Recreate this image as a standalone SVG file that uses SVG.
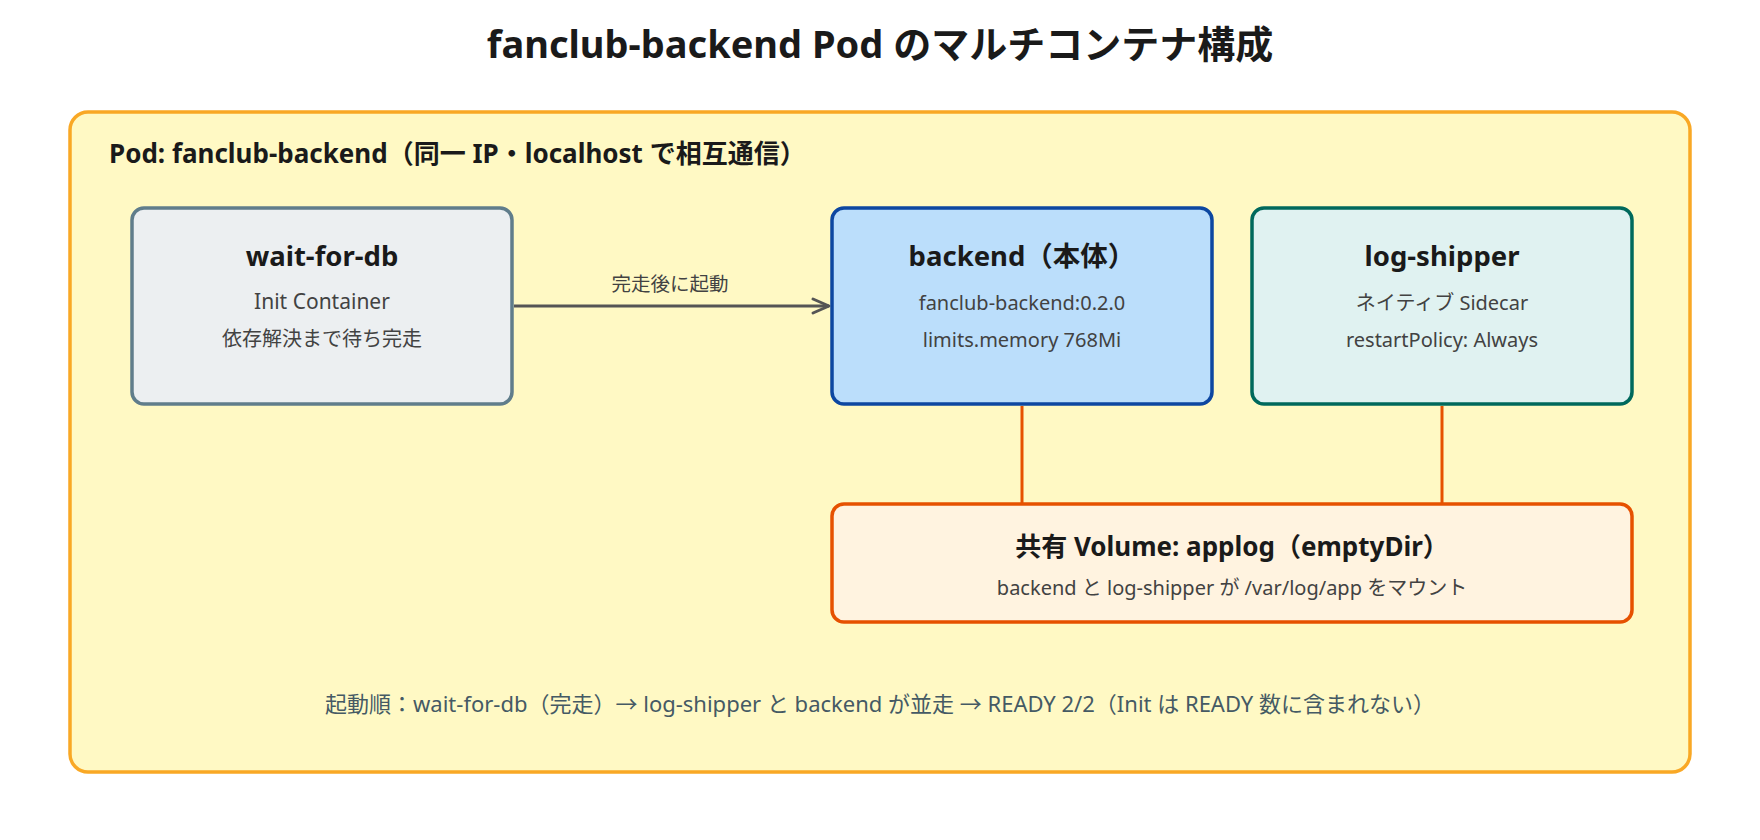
<svg xmlns="http://www.w3.org/2000/svg" width="1760" height="840" viewBox="0 0 1760 840">
  <style>
    text { font-family: "Noto Sans", "Noto Sans CJK JP", sans-serif; }
    .title { font-size: 38px; font-weight: 700; fill: #1a1a1a; text-anchor: middle; }
    .podlabel { font-size: 26px; font-weight: 700; fill: #1a1a1a; }
    .ntitle { font-size: 27.5px; font-weight: 700; fill: #1a1a1a; text-anchor: middle; }
    .vtitle { font-size: 26px; font-weight: 700; fill: #1a1a1a; text-anchor: middle; }
    .sub { font-size: 20px; fill: #424242; text-anchor: middle; }
    .wide { font-size: 21px; }
    .elabel { font-size: 19.5px; fill: #424242; text-anchor: middle; }
    .footer { font-size: 22px; fill: #455a64; text-anchor: middle; }
    .box { stroke-width: 3.5; }
  </style>
  <defs>
    <marker id="arrow" viewBox="0 0 20 20" refX="18" refY="10" markerWidth="20" markerHeight="20" markerUnits="userSpaceOnUse" orient="auto">
      <path d="M2,3 L18,10 L2,17" fill="none" stroke="#555555" stroke-width="3" stroke-linejoin="round" stroke-linecap="round"/>
    </marker>
  </defs>
  <rect width="1760" height="840" fill="#ffffff"/>
  <text class="title" x="880" y="58">fanclub-backend Pod のマルチコンテナ構成</text>

  <g id="pod">
    <rect x="70" y="112" width="1620" height="660" rx="18" fill="#fff9c4" stroke="#f9a825" stroke-width="3.5"/>
    <text class="podlabel" x="109" y="163">Pod: fanclub-backend（同一 IP・localhost で相互通信）</text>
  </g>

  <g id="connectors">
    <line x1="514" y1="306" x2="829" y2="306" stroke="#555555" stroke-width="3" marker-end="url(#arrow)"/>
    <text class="elabel" x="670" y="291">完走後に起動</text>
    <line x1="1022" y1="406" x2="1022" y2="503" stroke="#e65100" stroke-width="3"/>
    <line x1="1442" y1="406" x2="1442" y2="503" stroke="#e65100" stroke-width="3"/>
  </g>

  <g id="wait-for-db">
    <rect class="box" x="132" y="208" width="380" height="196" rx="12" fill="#eceff1" stroke="#607d8b"/>
    <text class="ntitle" x="322" y="266">wait-for-db</text>
    <text class="sub wide" x="322" y="309">Init Container</text>
    <text class="sub" x="322" y="346">依存解決まで待ち完走</text>
  </g>

  <g id="backend">
    <rect class="box" x="832" y="208" width="380" height="196" rx="12" fill="#bbdefb" stroke="#0d47a1"/>
    <text class="ntitle" x="1022" y="266">backend（本体）</text>
    <text class="sub" x="1022" y="310">fanclub-backend:0.2.0</text>
    <text class="sub" x="1022" y="347">limits.memory 768Mi</text>
  </g>

  <g id="log-shipper">
    <rect class="box" x="1252" y="208" width="380" height="196" rx="12" fill="#e0f2f1" stroke="#00695c"/>
    <text class="ntitle" x="1442" y="266">log-shipper</text>
    <text class="sub" x="1442" y="310">ネイティブ Sidecar</text>
    <text class="sub" x="1442" y="347">restartPolicy: Always</text>
  </g>

  <g id="applog">
    <rect class="box" x="832" y="504" width="800" height="118" rx="12" fill="#fff3e0" stroke="#e65100"/>
    <text class="vtitle" x="1232" y="556">共有 Volume: applog（emptyDir）</text>
    <text class="sub" x="1232" y="595">backend と log-shipper が /var/log/app をマウント</text>
  </g>

  <g id="footer">
    <text class="footer" x="880" y="712">起動順：wait-for-db（完走）→ log-shipper と backend が並走 → READY 2/2（Init は READY 数に含まれない）</text>
  </g>
</svg>
